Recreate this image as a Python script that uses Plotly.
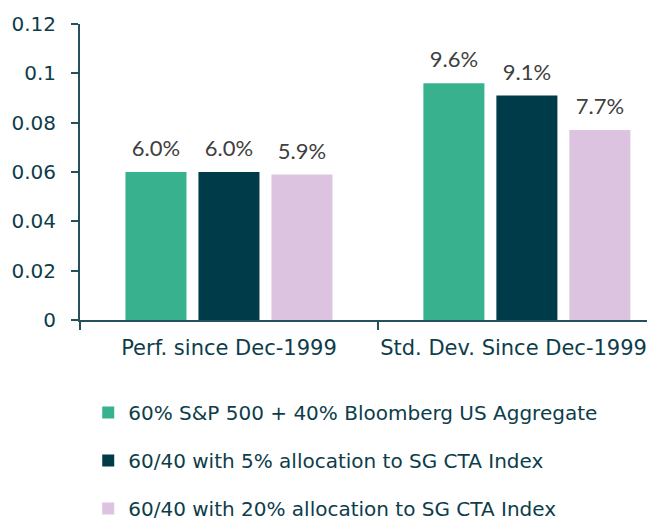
import plotly.graph_objects as go

categories = ["Perf. since Dec-1999", "Std. Dev. Since Dec-1999"]
category_ticktext = ["Perf. since Dec-1999",
                     "Std. Dev. Since Dec-1999\u00a0\u00a0\u00a0\u00a0"]
series_names = [
    "60% S&P 500 + 40% Bloomberg US Aggregate",
    "60/40 with 5% allocation to SG CTA Index",
    "60/40 with 20% allocation to SG CTA Index",
]
series_values = [
    [0.060, 0.096],
    [0.060, 0.091],
    [0.059, 0.077],
]
series_labels = [
    ["6.0%", "9.6%"],
    ["6.0%", "9.1%"],
    ["5.9%", "7.7%"],
]
colors = ["#38b28e", "#003b49", "#dcc3e0"]
ytick_vals = [0, 0.02, 0.04, 0.06, 0.08, 0.1, 0.12]
ytick_text = ["0", "0.02", "0.04", "0.06", "0.08", "0.1", "0.12"]

FONT = "DejaVu Sans"
LABEL_FONT = "Lato"
TXT = "#0d3d4a"
LINE = "#24515c"
BARGAP = 0.265

fig = go.Figure()
for i, (name, vals) in enumerate(zip(series_names, series_values)):
    fig.add_trace(go.Bar(
        x=categories, y=vals, name=name, marker_color=colors[i],
        marker_line_width=0, offsetgroup=str(i), legendgroup=str(i),
    ))
for i, (vals, labs) in enumerate(zip(series_values, series_labels)):
    fig.add_trace(go.Scatter(
        x=categories, y=vals, text=labs, mode="markers+text",
        marker=dict(size=15, opacity=0), textposition="top center",
        textfont=dict(family=LABEL_FONT, size=22, color="#404040"),
        offsetgroup=str(i), showlegend=False, hoverinfo="skip",
        cliponaxis=False,
    ))

# page body has an 8px margin, so the figure is 8px smaller on each axis
fig.update_layout(
    width=647, height=510,
    margin=dict(l=72, r=0, t=16, b=198, autoexpand=False),
    paper_bgcolor="white", plot_bgcolor="white",
    barmode="group", bargap=BARGAP, bargroupgap=0.164,
    scattermode="group", scattergap=BARGAP,
    font=dict(family=FONT, size=20, color=TXT),
    showlegend=True,
    legend=dict(
        orientation="v", xref="container", yref="container",
        x=0.124, y=0.245, xanchor="left", yanchor="top",
        font=dict(family=FONT, size=20, color=TXT),
        tracegroupgap=19, bgcolor="rgba(0,0,0,0)",
    ),
    xaxis=dict(
        range=[-0.5, 1.43], showline=True, linecolor=LINE, linewidth=2,
        ticks="outside", tickson="boundaries", ticklen=8, tickcolor=LINE,
        tickwidth=1.5, showgrid=False, tickfont=dict(size=21, color=TXT),
        tickvals=categories, ticktext=category_ticktext, tickangle=0,
        ticklabelstandoff=8, automargin=False,
    ),
    yaxis=dict(
        range=[0, 0.12], tickvals=ytick_vals, ticktext=ytick_text,
        showline=True, linecolor=LINE, linewidth=2, ticks="outside",
        ticklen=7, tickcolor=LINE, tickwidth=1.5, showgrid=False,
        zeroline=False, tickfont=dict(size=20, color=TXT),
        ticklabelstandoff=11, automargin=False,
    ),
)

fig.write_html("out.html")
